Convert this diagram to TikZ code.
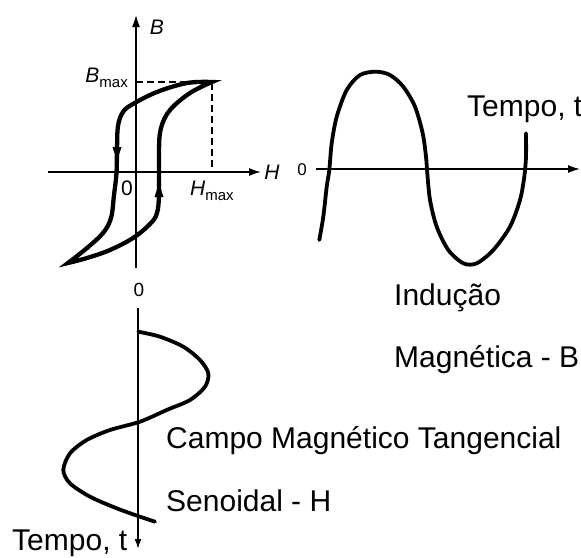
\documentclass[tikz,border=0pt]{standalone}
\usepackage{fontspec}
\setmainfont{Liberation Sans}
\usetikzlibrary{positioning,arrows.meta}

\begin{document}
\begin{tikzpicture}[
  x=1pt,y=-1pt,
  axis/.style={line width=1.5pt,-{Latex[length=12pt,width=8pt]}},
  curva/.style={line width=3.8pt,line cap=round,line join=round},
  texto/.style={font=\fontsize{30}{30}\selectfont,anchor=base west,inner sep=0pt},
  lbl/.style={font=\fontsize{21}{21}\selectfont\itshape,inner sep=0pt},
  zero/.style={font=\fontsize{17}{17}\selectfont,inner sep=0pt}
]
\useasboundingbox (0,0) rectangle (581,557);
% hysteresis axes
\coordinate (Bbot) at (136,268);
\coordinate (Btop) at (136,15);
\coordinate (Hleft) at (48,172);
\coordinate (Hright) at (261,172);
\coordinate (Bm) at (136,82);
\coordinate (tip) at (212,82);
\coordinate (Hm) at (212,172);
\draw[axis] (Bbot) -- (Btop);
\draw[axis] (Hleft) -- (Hright);
\draw[line width=1.5pt,dash pattern=on 7pt off 4pt] (Bm) -- (tip) -- (Hm);
% loop
\draw[line width=4.3pt,line join=miter] plot[smooth,tension=0.6] coordinates
  {(212,82) (187,83) (157,92) (133,104) (123,112) (118,126) (117,150)
   (116.5,173) (114,195) (111,218) (103,233) (87,248) (68,263)}
  -- plot[smooth,tension=0.6] coordinates
  {(68,263) (87,258) (110,250) (133,238) (150,224) (157,213) (159,193)
   (159,150) (161,128) (170,110) (190,93) (212,82)} -- cycle;
\fill (117,161) -- (112.5,147) -- (121.5,147) -- cycle;
\fill (159,183) -- (154.5,197) -- (163.5,197) -- cycle;
\node[lbl] (B) at (157,27) {B};
\node[lbl,anchor=base east] (Bmax) at (128,82)
  {B\raisebox{-5pt}{\upshape\fontsize{15}{15}\selectfont max}};
\node[lbl] (H) at (272,172) {H};
\node[lbl,anchor=base west] (Hmax) at (190,195)
  {H\raisebox{-5pt}{\upshape\fontsize{15}{15}\selectfont max}};
\node[zero,font=\fontsize{21}{21}\selectfont] (O1) at (127,188) {0};
% induction versus time
\coordinate (Tleft) at (316,169);
\coordinate (Tright) at (580,169);
\draw[axis] (Tleft) -- (Tright);
\node[zero] (O2) at (302,170) {0};
\draw[curva] plot[smooth] coordinates
  {(319.3,240) (323.3,216.7) (326.7,186.7) (329.3,170) (331.7,143.3)
   (336.7,116.7) (346.7,90) (360,75) (376,71.7) (390,75) (403.3,86.7)
   (415,106.7) (422.7,133.3) (426,156.7) (427.3,173.3) (430,200)
   (436.7,226.7) (448.3,250) (463.3,263.3) (476.7,263.3) (493.3,250)
   (510,226.7) (520,200) (524.3,176.7) (526,156.7) (526,133.3)};
\node[texto] (t1) at (467,116) {Tempo, t};
% field versus time
\coordinate (Vtop) at (138,308);
\coordinate (Vbot) at (138,549);
\draw[line width=1.5pt,-{Latex[length=10pt,width=7pt]}] (Vtop) -- (Vbot);
\node[zero,font=\fontsize{19}{19}\selectfont] (O3) at (139,290) {0};
\draw[curva] plot[smooth] coordinates
  {(138.3,331.7) (160,336.7) (183.3,346.7) (200,360) (208.3,373.3)
   (205,386.7) (190,400) (166.7,410) (140,421.7) (110,430) (86.7,440)
   (70,453.3) (63.3,470) (70,483.3) (90,496.7) (116.7,508.3) (140,516.7)
   (155,521.7)};
\node[texto] (t2) at (12,550) {Tempo, t};
% captions
\node[texto] (ind) at (394,305) {Indução};
\node[texto] (mag) at (394,367) {Magnética - B};
\node[texto] (campo) at (166,448) {Campo Magnético Tangencial};
\node[texto] (sen) at (166,511) {Senoidal - H};
\end{tikzpicture}
\end{document}
